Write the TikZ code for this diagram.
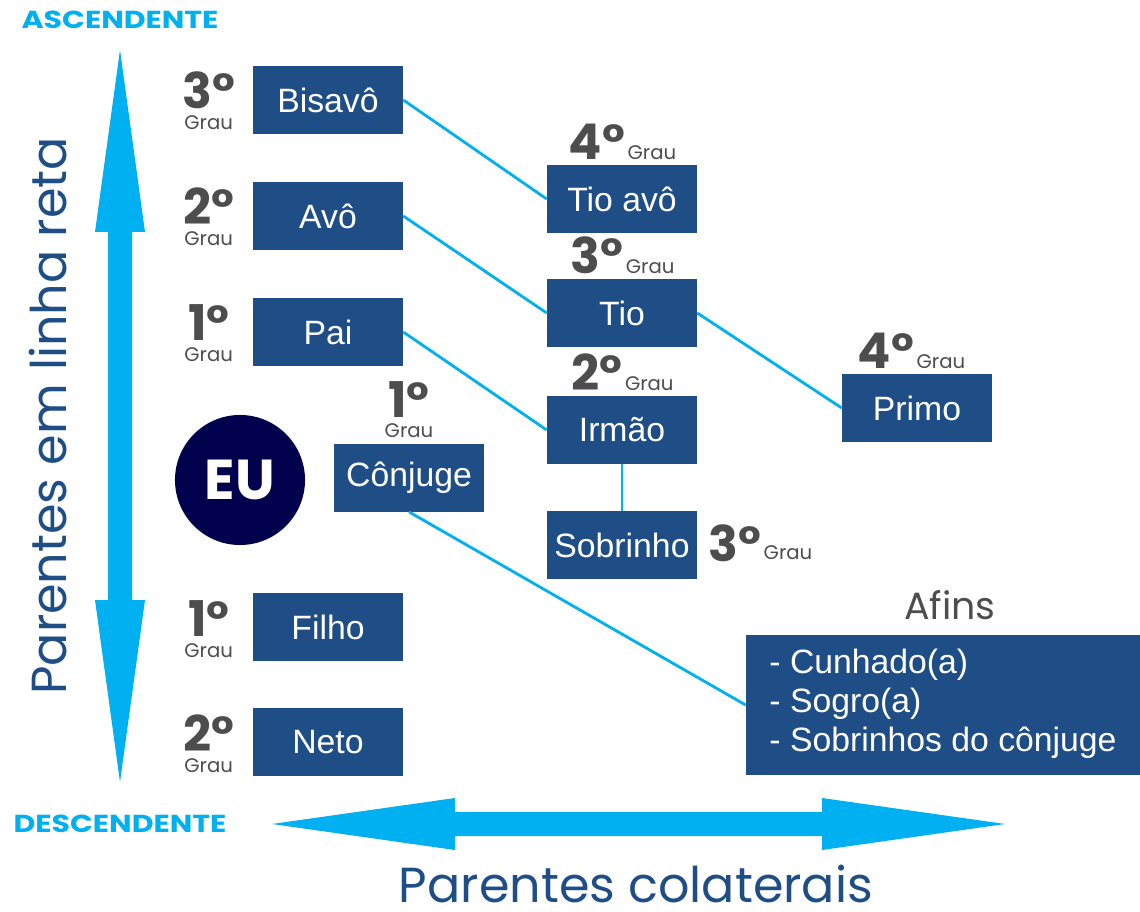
\documentclass[tikz,border=0pt]{standalone}
\usepackage{fontspec}
\setmainfont{Liberation Sans}
\newfontfamily\popp{Poppins}
\usetikzlibrary{positioning,calc}

\definecolor{caixa}{HTML}{1F4E87}
\definecolor{azulclaro}{HTML}{00B0F0}
\definecolor{marinho}{HTML}{00004D}
\definecolor{cinza}{HTML}{4D4D4D}

\tikzset{
    parente/.style={fill=caixa, text=white, minimum width=3.75cm, minimum height=1.68cm,
        inner sep=0pt, font=\fontsize{24}{28}\selectfont},
    ligacao/.style={azulclaro, line width=2pt},
    numgrau/.style={text=cinza, inner sep=0pt, anchor=base, font=\popp\bfseries\fontsize{35}{35}\selectfont},
    grau/.style={text=cinza, inner sep=0pt, font=\popp\fontsize{14}{14}\selectfont},
    titulo/.style={text=azulclaro, inner sep=0pt, font=\popp\bfseries\fontsize{17.5}{17.5}\selectfont},
    eixo/.style={text=caixa, inner sep=0pt, anchor=base, font=\popp\fontsize{35}{35}\selectfont},
}

\begin{document}
\begin{tikzpicture}[x=0.025cm, y=-0.025cm]
    \useasboundingbox (0,0) rectangle (1140,912);

    % Setas grandes
    \fill[azulclaro] (120,50) -- (145,232) -- (132,232) -- (132,600) -- (145,600) -- (120,782)
        -- (95,600) -- (108,600) -- (108,232) -- (95,232) -- cycle;
    \fill[azulclaro] (272,824) -- (455,798) -- (455,812) -- (822,812) -- (822,798) -- (1005,824)
        -- (822,850) -- (822,836) -- (455,836) -- (455,850) -- cycle;

    % Titulos dos eixos
    \node[titulo] (asc) at (120,20) {\scalebox{1.22}[1]{ASCENDENTE}};
    \node[titulo] (desc) at (120,824) {\scalebox{1.22}[1]{DESCENDENTE}};
    \node[eixo, rotate=90] (reta) at (66,416) {Parentes em linha reta};
    \node[eixo] (colat) at (636,902) {Parentes colaterais};

    % Linha reta
    \node[parente] (bisavo) at (328,100) {Bisavô};
    \node[parente] (avo) at (328,216) {Avô};
    \node[parente] (pai) at (328,332) {Pai};
    \node[circle, fill=marinho, text=white, minimum size=3.25cm, inner sep=0pt,
        font=\popp\bfseries\fontsize{40}{40}\selectfont] (eu) at (240,480) {EU};
    \node[parente] (filho) at (328,627) {Filho};
    \node[parente] (neto) at (328,742) {Neto};

    % Colaterais
    \node[parente] (tioavo) at (622,199) {Tio avô};
    \node[parente] (tio) at (622,313) {Tio};
    \node[parente] (irmao) at (622,430) {Irmão};
    \node[parente] (sobrinho) at (622,545) {Sobrinho};
    \node[parente] (primo) at (917,408) {Primo};
    \node[parente] (conjuge) at (409,478) {Cônjuge};

    % Afins
    \node[parente, minimum width=9.85cm, minimum height=3.48cm,
        font=\fontsize{24}{27.7}\selectfont] (afins) at (943,705)
        {\raisebox{-7pt}{\begin{tabular}{@{}l@{}}- Cunhado(a)\\- Sogro(a)\\- Sobrinhos do cônjuge\end{tabular}}};
    \node[text=cinza, font=\popp\fontsize{27}{27}\selectfont, anchor=base] (tafins) at (950,619) {Afins};

    % Ligacoes
    \draw[ligacao] (bisavo.east) -- (tioavo.west);
    \draw[ligacao] (avo.east) -- (tio.west);
    \draw[ligacao] (pai.east) -- (irmao.west);
    \draw[ligacao] (tio.east) -- (primo.west);
    \draw[ligacao] (irmao.south) -- (sobrinho.north);
    \draw[ligacao] (conjuge.south) -- (afins.west);

    % Graus da linha reta
    \foreach \n/\g in {bisavo/3, avo/2, pai/1, filho/1, neto/2} {
        \node[numgrau] (n\n) at ($(\n.west)+(-44,9)$) {\g°};
        \node[grau, anchor=base] (g\n) at ($(n\n.base)+(0,21)$) {Grau};
    }

    % Graus colaterais
    \foreach \n/\g/\dx in {tioavo/4/-25, tio/3/-25, irmao/2/-25, primo/4/-31} {
        \node[numgrau] (n\n) at ($(\n.north)+(\dx,-6)$) {\g°};
        \node[grau, anchor=base west] (g\n) at ($(n\n.base east)+(2,0)$) {Grau};
    }
    \node[numgrau, anchor=base west] (nsobrinho) at ($(sobrinho.east)+(11,17)$) {3°};
    \node[grau, anchor=base west] (gsobrinho) at ($(nsobrinho.base east)+(2,-2)$) {Grau};
    \node[numgrau] (nconjuge) at ($(conjuge.north)+(0,-27)$) {1°};
    \node[grau, anchor=base] (gconjuge) at ($(nconjuge.base)+(0,20)$) {Grau};
\end{tikzpicture}
\end{document}
